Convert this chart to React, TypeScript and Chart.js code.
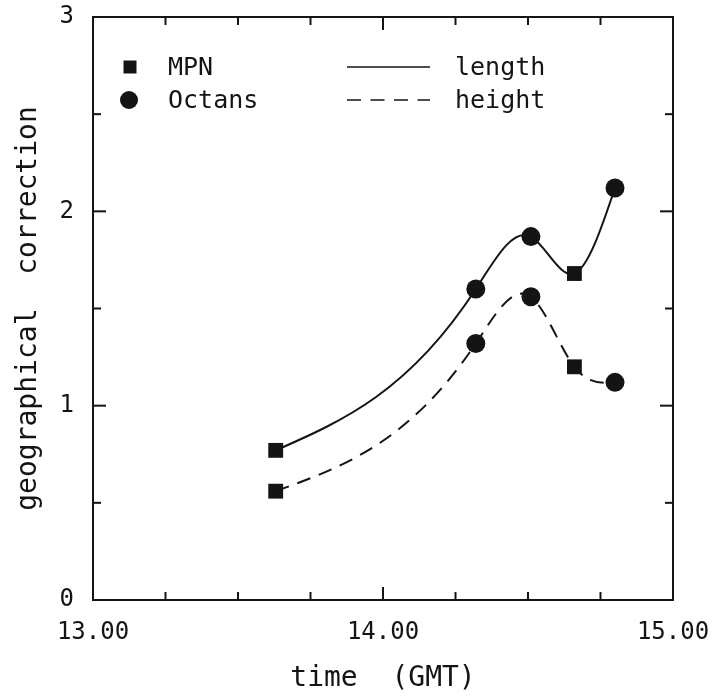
import React, { useEffect, useRef } from "react";
import { Chart, registerables } from "chart.js";

Chart.register(...registerables);

// ---- data ----
const times = [13.63, 14.32, 14.51, 14.66, 14.8];
const lengthValues = [0.77, 1.6, 1.87, 1.68, 2.12];
const heightValues = [0.56, 1.32, 1.56, 1.2, 1.12];
const instruments = ["MPN", "Octans", "Octans", "MPN", "Octans"];
const xTickLabels = ["13.00", "14.00", "15.00"];
const yTickLabels = ["0", "1", "2", "3"];
const markerLegend = ["MPN", "Octans"];
const lineLegend = ["length", "height"];
const xTitle = "time  (GMT)";
const yTitle = "geographical  correction";

const FONT = "'DejaVu Sans Mono', monospace";
const INK = "#141414";

const isInt = (v: number) => Math.abs(v - Math.round(v)) < 1e-6;

const pointStyles = instruments.map((s) => (s === "MPN" ? "rect" : "circle"));
const pointRadii = instruments.map((s) => (s === "MPN" ? 10.5 : 9.5));

// natural cubic spline through the points (pixel space), fed as bezier control points
const naturalSpline = {
  id: "naturalSpline",
  beforeDatasetDraw(chart: any, args: any) {
    const meta = args.meta;
    const line = meta.dataset;
    if (!line || !meta.data || meta.data.length < 3) return;
    line.updateControlPoints(chart.chartArea, "x");
    const pts = meta.data;
    const n = pts.length;
    const xs = pts.map((p: any) => p.x);
    const ys = pts.map((p: any) => p.y);
    const h: number[] = [];
    const s: number[] = [];
    for (let i = 0; i < n - 1; i++) {
      h[i] = xs[i + 1] - xs[i];
      s[i] = (ys[i + 1] - ys[i]) / h[i];
    }
    const M = new Array(n).fill(0);
    const m = n - 2;
    const a: number[] = [], b: number[] = [], c: number[] = [], d: number[] = [];
    for (let k = 0; k < m; k++) {
      const i = k + 1;
      a[k] = h[i - 1];
      b[k] = 2 * (h[i - 1] + h[i]);
      c[k] = h[i];
      d[k] = 6 * (s[i] - s[i - 1]);
    }
    for (let k = 1; k < m; k++) {
      const w = a[k] / b[k - 1];
      b[k] -= w * c[k - 1];
      d[k] -= w * d[k - 1];
    }
    const sol: number[] = new Array(m).fill(0);
    sol[m - 1] = d[m - 1] / b[m - 1];
    for (let k = m - 2; k >= 0; k--) sol[k] = (d[k] - c[k] * sol[k + 1]) / b[k];
    for (let k = 0; k < m; k++) M[k + 1] = sol[k];
    const der: number[] = [];
    for (let i = 0; i < n; i++) {
      if (i < n - 1) der[i] = s[i] - (h[i] * (2 * M[i] + M[i + 1])) / 6;
      else der[i] = s[n - 2] + (h[n - 2] * (M[n - 2] + 2 * M[n - 1])) / 6;
    }
    for (let i = 0; i < n; i++) {
      const p = pts[i];
      if (i < n - 1) {
        p.cp2x = xs[i] + h[i] / 3;
        p.cp2y = ys[i] + (der[i] * h[i]) / 3;
      }
      if (i > 0) {
        p.cp1x = xs[i] - h[i - 1] / 3;
        p.cp1y = ys[i] - (der[i] * h[i - 1]) / 3;
      }
    }
    line._path = undefined;
  },
};

// boxed frame with inward ticks on all four sides
const framePlugin = {
  id: "frame",
  afterDraw(chart: any) {
    const { ctx, chartArea: ar, scales } = chart;
    const x = scales.x;
    const y = scales.y;
    ctx.save();
    ctx.strokeStyle = INK;
    ctx.lineWidth = 2;
    ctx.strokeRect(ar.left, ar.top, ar.right - ar.left, ar.bottom - ar.top);
    const seg = (x1: number, y1: number, x2: number, y2: number) => {
      ctx.beginPath();
      ctx.moveTo(x1, y1);
      ctx.lineTo(x2, y2);
      ctx.stroke();
    };
    x.ticks.forEach((t: any) => {
      const px = x.getPixelForValue(t.value);
      if (px <= ar.left + 1 || px >= ar.right - 1) return;
      const len = isInt(t.value) ? 13 : 8;
      seg(px, ar.bottom, px, ar.bottom - len);
      seg(px, ar.top, px, ar.top + len);
    });
    y.ticks.forEach((t: any) => {
      const py = y.getPixelForValue(t.value);
      if (py <= ar.top + 1 || py >= ar.bottom - 1) return;
      const len = isInt(t.value) ? 13 : 8;
      seg(ar.left, py, ar.left + len, py);
      seg(ar.right, py, ar.right - len, py);
    });
    ctx.restore();
  },
};

// legend drawn inside the plot: marker kinds on the left, line kinds on the right
const legendPlugin = {
  id: "customLegend",
  afterDraw(chart: any) {
    const { ctx, chartArea: ar } = chart;
    const L = ar.left;
    const T = ar.top;
    ctx.save();
    ctx.fillStyle = INK;
    ctx.strokeStyle = INK;
    ctx.font = `25px ${FONT}`;
    ctx.textBaseline = "middle";
    ctx.textAlign = "left";
    const rows = [T + 50, T + 83];
    // square (MPN)
    ctx.fillRect(L + 37 - 6.5, rows[0] - 6.5, 13, 13);
    ctx.fillText(markerLegend[0], L + 75, rows[0] + 1);
    // circle (Octans)
    ctx.beginPath();
    ctx.arc(L + 36, rows[1], 9, 0, Math.PI * 2);
    ctx.fill();
    ctx.fillText(markerLegend[1], L + 75, rows[1] + 1);
    // solid line (length)
    ctx.lineWidth = 1.5;
    ctx.beginPath();
    ctx.moveTo(L + 254, rows[0]);
    ctx.lineTo(L + 337, rows[0]);
    ctx.stroke();
    ctx.fillText(lineLegend[0], L + 362, rows[0] + 1);
    // dashed line (height)
    ctx.setLineDash([14, 9.5]);
    ctx.beginPath();
    ctx.moveTo(L + 254, rows[1]);
    ctx.lineTo(L + 337, rows[1]);
    ctx.stroke();
    ctx.setLineDash([]);
    ctx.fillText(lineLegend[1], L + 362, rows[1] + 1);
    ctx.restore();
  },
};

export default function App() {
  const ref = useRef<HTMLCanvasElement | null>(null);

  useEffect(() => {
    if (!ref.current) return;
    const mk = (vals: number[]) => times.map((t, i) => ({ x: t, y: vals[i] }));
    const common = {
      borderColor: INK,
      borderWidth: 2,
      tension: 0.4,
      pointStyle: pointStyles,
      pointRadius: pointRadii,
      pointBackgroundColor: INK,
      pointBorderColor: INK,
      pointBorderWidth: 0,
      fill: false,
    };
    const chart = new Chart(ref.current, {
      type: "line",
      data: {
        datasets: [
          { label: lineLegend[0], data: mk(lengthValues), ...common },
          { label: lineLegend[1], data: mk(heightValues), borderDash: [14, 9], ...common },
        ],
      } as any,
      options: {
        animation: false,
        responsive: false,
        events: [],
        layout: { padding: { top: 17, right: 41, left: 0, bottom: 0 } },
        plugins: { legend: { display: false }, tooltip: { enabled: false } },
        scales: {
          x: {
            type: "linear",
            min: 13,
            max: 15,
            grid: { display: false, drawTicks: false },
            border: { display: false },
            ticks: {
              stepSize: 0.25,
              autoSkip: false,
              maxRotation: 0,
              padding: 18,
              color: INK,
              font: { family: FONT, size: 24 },
              callback: (v: any) => (isInt(v) ? xTickLabels[Math.round(v) - 13] : ""),
            },
            title: {
              display: true,
              text: xTitle,
              color: INK,
              font: { family: FONT, size: 28 },
              padding: { top: 0, bottom: 0 },
            },
            afterFit: (s: any) => {
              s.height = 96;
              s.paddingLeft = 0;
              s.paddingRight = 0;
            },
          },
          y: {
            type: "linear",
            min: 0,
            max: 3,
            grid: { display: false, drawTicks: false },
            border: { display: false },
            ticks: {
              stepSize: 0.5,
              autoSkip: false,
              padding: 19,
              color: INK,
              font: { family: FONT, size: 24 },
              callback: (v: any) => (isInt(v) ? yTickLabels[Math.round(v)] : ""),
            },
            title: {
              display: true,
              text: yTitle,
              color: INK,
              font: { family: FONT, size: 28 },
              padding: { top: 12, bottom: 0 },
            },
            afterFit: (s: any) => {
              s.width = 93;
              s.paddingTop = 0;
              s.paddingBottom = 0;
            },
          },
        },
      } as any,
      plugins: [naturalSpline, framePlugin, legendPlugin],
    });
    return () => chart.destroy();
  }, []);

  return (
    <div style={{ position: "absolute", left: 0, top: 0, width: 714, height: 696, background: "#fff" }}>
      <canvas ref={ref} width={714} height={696} style={{ display: "block" }} />
    </div>
  );
}
